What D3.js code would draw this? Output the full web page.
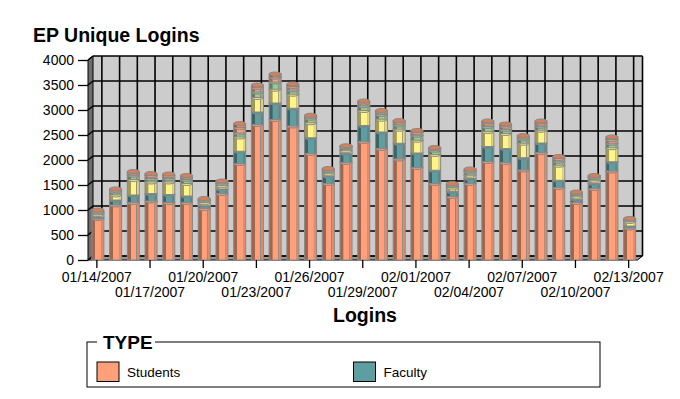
<!DOCTYPE html>
<html>
<head>
<meta charset="utf-8">
<script src="https://cdn.jsdelivr.net/npm/d3@7"></script>
<style>
  body { margin: 0; background: #fff; }
  text { font-family: "Liberation Sans", Arial, sans-serif; }
</style>
</head>
<body>
<script>
'use strict';

// categories (one bar per day)
const dates = ["01/14/2007","01/15/2007","01/16/2007","01/17/2007","01/18/2007","01/19/2007","01/20/2007",
  "01/21/2007","01/22/2007","01/23/2007","01/24/2007","01/25/2007","01/26/2007","01/27/2007","01/28/2007",
  "01/29/2007","01/30/2007","01/31/2007","02/01/2007","02/02/2007","02/03/2007","02/04/2007","02/05/2007",
  "02/06/2007","02/07/2007","02/08/2007","02/09/2007","02/10/2007","02/11/2007","02/12/2007","02/13/2007"];

// logins per type
const students = [830,1100,1150,1180,1150,1150,1030,1330,1930,2710,2810,2680,2130,1530,1950,2370,2230,2020,1850,1530,1270,1530,1970,1950,1800,2150,1450,1150,1430,1780,640];
const faculty  = [30,100,150,150,160,130,55,90,245,250,330,355,315,150,180,320,330,315,290,265,100,100,300,280,245,190,145,65,100,185,40];
const staff    = [50,100,310,230,250,250,60,65,285,290,275,280,300,55,55,300,255,280,255,315,70,65,300,300,290,255,300,60,65,280,90];
const alumni   = [30,60,85,70,70,80,45,45,80,110,145,85,90,55,60,95,95,85,100,85,50,65,100,80,85,80,80,55,55,90,30];
const guests   = [35,35,45,60,55,50,25,30,110,85,95,70,35,25,25,55,50,55,55,35,25,35,65,65,40,60,55,20,25,75,15];
const other    = [25,25,30,40,35,30,15,20,80,55,65,50,25,15,15,40,30,35,40,20,15,25,45,45,30,45,40,10,15,50,15];

const yTicks = [0,500,1000,1500,2000,2500,3000,3500,4000];
const legendItems = ["Students", "Faculty"];

const keys = ["Students","Faculty","Staff","Alumni","Guests","Other"];
const colors = ["#FFA07A","#5F9EA0","#FFF38A","#9CC894","#F3A383","#E5895F"];

const rows = dates.map(function(d, i) {
  return {date: d, Students: students[i], Faculty: faculty[i], Staff: staff[i],
          Alumni: alumni[i], Guests: guests[i], Other: other[i]};
});

const W = 680, H = 399;
const dx = 5, dy = 4;   // depth of the 3d box

const svg = d3.select("body").append("svg")
  .attr("width", W)
  .attr("height", H);

const x = d3.scaleBand().domain(dates).range([88, 637.5]);
const y = d3.scaleLinear().domain([0, 4000]).range([260, 60]);

// gradients for the cylinders
const defs = svg.append("defs");
keys.forEach(function(k, i) {
  const c = colors[i];
  const g = defs.append("linearGradient")
    .attr("id", "grad" + i)
    .attr("x1", 0).attr("x2", 1).attr("y1", 0).attr("y2", 0);
  const dark = d3.color(c).darker(1.3).formatHex();
  const mid = d3.color(c).darker(0.35).formatHex();
  g.append("stop").attr("offset", 0).attr("stop-color", dark);
  g.append("stop").attr("offset", 0.27).attr("stop-color", dark);
  g.append("stop").attr("offset", 0.3).attr("stop-color", c);
  g.append("stop").attr("offset", 0.74).attr("stop-color", c);
  g.append("stop").attr("offset", 0.76).attr("stop-color", "#888");
  g.append("stop").attr("offset", 0.82).attr("stop-color", mid);
  g.append("stop").attr("offset", 1).attr("stop-color", mid);
});

const x0 = x.range()[0], x1 = x.range()[1];
const yTop = y(4000), yBot = y(0);

// back wall
svg.append("rect")
  .attr("x", x0 + dx).attr("y", yTop - dy)
  .attr("width", x1 - x0).attr("height", yBot - yTop)
  .attr("fill", "#CCCCCC");

// left wall
svg.append("path")
  .attr("d", `M${x0},${yTop}L${x0 + dx},${yTop - dy}L${x0 + dx},${yBot - dy}L${x0},${yBot}Z`)
  .attr("fill", "#6E6E6E")
  .attr("stroke", "#000");

// floor
svg.append("path")
  .attr("d", `M${x0},${yBot}L${x0 + dx},${yBot - dy}L${x1 + dx},${yBot - dy}L${x1},${yBot}Z`)
  .attr("fill", "#9A9A9A")
  .attr("stroke", "#000");

// grid on the back wall
const grid = svg.append("g").attr("stroke", "#000").attr("stroke-width", 1.6);
grid.selectAll(".hg").data(yTicks).enter().append("line")
  .attr("x1", x0 + dx).attr("x2", x1 + dx)
  .attr("y1", d => y(d) - dy).attr("y2", d => y(d) - dy);
grid.selectAll(".sg").data(yTicks).enter().append("line")
  .attr("x1", x0).attr("x2", x0 + dx)
  .attr("y1", d => y(d)).attr("y2", d => y(d) - dy);
grid.selectAll(".vg").data(dates).enter().append("line")
  .attr("x1", d => x(d) + x.bandwidth() / 2 + dx)
  .attr("x2", d => x(d) + x.bandwidth() / 2 + dx)
  .attr("y1", yTop - dy).attr("y2", yBot - dy);
svg.append("line")
  .attr("x1", x1 + dx).attr("x2", x1 + dx)
  .attr("y1", yTop - dy).attr("y2", yBot - dy)
  .attr("stroke", "#000").attr("stroke-width", 1.6);

// stacked cylinders
const stacked = d3.stack().keys(keys)(rows);
const bw = 12;
const ry = 2;

const bars = svg.append("g");
dates.forEach(function(d, j) {
  const cx = x(d) + x.bandwidth() / 2 + 1;
  const b = bars.append("g");
  stacked.forEach(function(layer, i) {
    const seg = layer[j];
    const top = y(seg[1]), bot = y(seg[0]);
    b.append("rect")
      .attr("x", cx - bw / 2)
      .attr("y", top)
      .attr("width", bw)
      .attr("height", Math.max(0, bot - top))
      .attr("fill", `url(#grad${i})`)
      .attr("stroke", "#888")
      .attr("stroke-width", 1);
    b.append("ellipse")
      .attr("cx", cx).attr("cy", top)
      .attr("rx", bw / 2).attr("ry", ry)
      .attr("fill", d3.color(colors[i]).darker(0.2).formatHex())
      .attr("stroke", "#888")
      .attr("stroke-width", 1);
  });
});

// y axis
const yAxis = svg.append("g")
  .attr("transform", `translate(${x0},0)`)
  .call(d3.axisLeft(y).tickValues(yTicks).tickSize(10).tickPadding(4).tickFormat(d3.format("d")));
yAxis.select(".domain").remove();
yAxis.selectAll("line").attr("stroke", "#000").attr("stroke-width", 1.3);
yAxis.selectAll("text").attr("font-size", 14).attr("fill", "#000")
  .style("font-family", '"Liberation Sans", Arial, sans-serif');

// x axis, labels in two rows
const xAxis = svg.append("g")
  .attr("transform", `translate(0,${yBot})`)
  .call(d3.axisBottom(x).tickValues(dates.filter((d, i) => i % 3 === 0)).tickSize(8));
xAxis.select(".domain").remove();
xAxis.selectAll("line").attr("stroke", "#000").attr("stroke-width", 1.3);
xAxis.selectAll("text")
  .attr("font-size", 14).attr("fill", "#000")
  .style("font-family", '"Liberation Sans", Arial, sans-serif')
  .attr("y", (d, i) => i % 2 === 0 ? 12.5 : 27.5);

// titles
svg.append("text")
  .attr("x", 33).attr("y", 41.5)
  .attr("font-size", 19.5).attr("font-weight", "bold")
  .text("EP Unique Logins");

svg.append("text")
  .attr("x", 365).attr("y", 322)
  .attr("text-anchor", "middle")
  .attr("font-size", 19.5).attr("font-weight", "bold")
  .text("Logins");

// legend
const legend = svg.append("g");
legend.append("rect")
  .attr("x", 87).attr("y", 342)
  .attr("width", 513).attr("height", 45)
  .attr("fill", "none").attr("stroke", "#000");
legend.append("rect")
  .attr("x", 97).attr("y", 336)
  .attr("width", 58).attr("height", 12)
  .attr("fill", "#fff");
legend.append("text")
  .attr("x", 103).attr("y", 348.5)
  .attr("font-size", 19).attr("font-weight", "bold")
  .text("TYPE");

legendItems.forEach(function(name, i) {
  const lx = 97 + i * 256.5;
  legend.append("rect")
    .attr("x", lx).attr("y", 362)
    .attr("width", 22).attr("height", 19.5)
    .attr("fill", colors[i])
    .attr("stroke", "#000");
  legend.append("text")
    .attr("x", lx + 30).attr("y", 377)
    .attr("font-size", 13.5)
    .text(name);
});
</script>
</body>
</html>
